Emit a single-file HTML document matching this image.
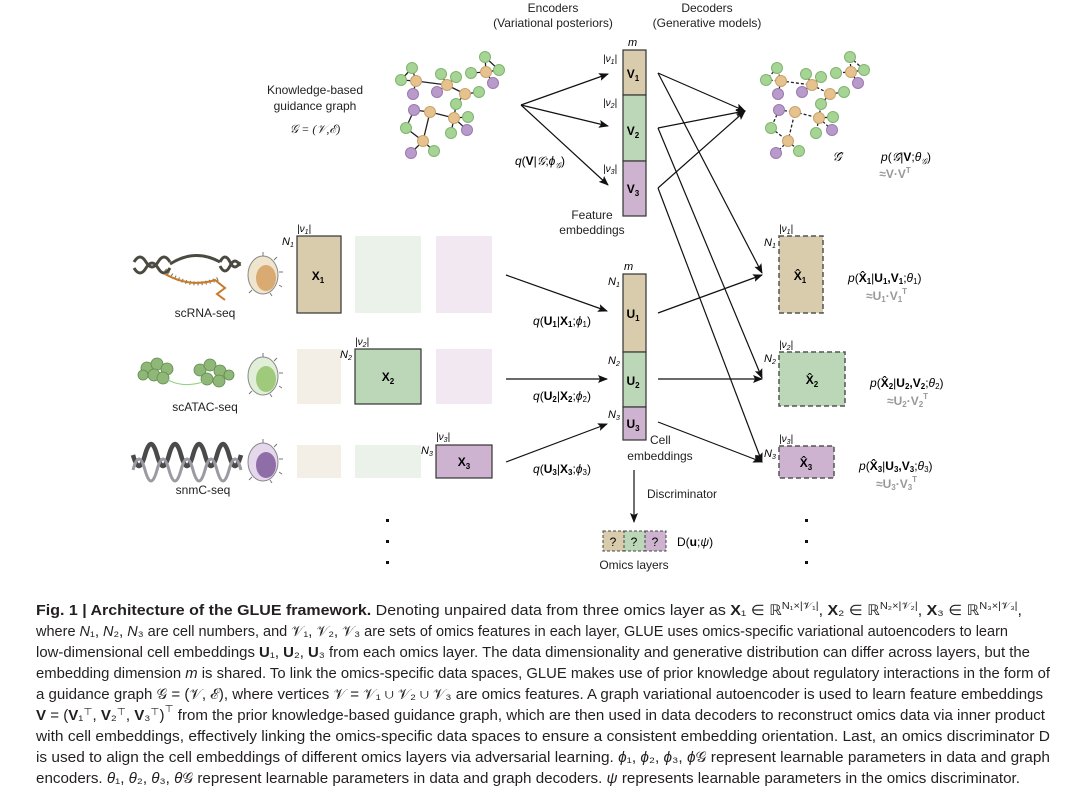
<!DOCTYPE html>
<html><head><meta charset="utf-8"><style>
html,body{margin:0;padding:0;background:#fff;}
svg{display:block;font-family:"Liberation Sans",sans-serif;}
.t{font-size:12px;fill:#222;}
.cap{font-size:14.5px;fill:#231f20;}
</style></head><body>
<svg width="1074" height="794" viewBox="0 0 1074 794" xmlns="http://www.w3.org/2000/svg">
<defs>
<marker id="ah" markerWidth="10" markerHeight="8" refX="9" refY="4" orient="auto" markerUnits="userSpaceOnUse">
<path d="M0,0 L10,4 L0,8 L2,4 Z" fill="#111"/></marker>
</defs>

<text class="t" x="553" y="12" text-anchor="middle">Encoders</text>
<text class="t" x="553" y="27" text-anchor="middle">(Variational posteriors)</text>
<text class="t" x="707" y="12" text-anchor="middle">Decoders</text>
<text class="t" x="707" y="27" text-anchor="middle">(Generative models)</text>

<text class="t" x="315" y="94" text-anchor="middle">Knowledge-based</text>
<text class="t" x="315" y="110" text-anchor="middle">guidance graph</text>
<text class="t" x="315" y="133" text-anchor="middle" font-style="italic" font-family="Liberation Serif">𝒢 = (𝒱,ℰ)</text>

<g>
<path d="M412 68L401 80L416 81Z M416 81L413 94 M416 81L447 85 M447 85L441 74 M447 85L456 77 M447 85L437 92 M447 85L465 94 M465 94L479 92 M465 94L456 104L454 118 M486 72L485 57L499 70L486 72 M486 72L471 73 M486 72L493 83 M414 110L430 112L454 118 M454 118L468 117 M454 118L451 133 M454 118L467 130 M414 110L406 128L423 141L430 112 M423 141L411 153 M423 141L434 151" stroke="#222" stroke-width="1.3" fill="none"/>
<g fill="#e6c28f" stroke="#c9a36a" stroke-width="1">
<circle cx="416" cy="81" r="5.5"/><circle cx="447" cy="85" r="5.5"/><circle cx="465" cy="94" r="5.5"/><circle cx="486" cy="72" r="5.5"/><circle cx="430" cy="112" r="5.5"/><circle cx="454" cy="118" r="5.5"/><circle cx="423" cy="141" r="5.5"/></g>
<g fill="#a6d495" stroke="#7fb56f" stroke-width="1">
<circle cx="412" cy="68" r="5.5"/><circle cx="401" cy="80" r="5.5"/><circle cx="441" cy="74" r="5.5"/><circle cx="456" cy="77" r="5.5"/><circle cx="479" cy="92" r="5.5"/><circle cx="456" cy="104" r="5.5"/><circle cx="485" cy="57" r="5.5"/><circle cx="471" cy="73" r="5.5"/><circle cx="499" cy="70" r="5.5"/><circle cx="468" cy="117" r="5.5"/><circle cx="451" cy="133" r="5.5"/><circle cx="406" cy="128" r="5.5"/><circle cx="434" cy="151" r="5.5"/></g>
<g fill="#b99bcb" stroke="#9a7aae" stroke-width="1">
<circle cx="413" cy="94" r="5.5"/><circle cx="437" cy="92" r="5.5"/><circle cx="493" cy="83" r="5.5"/><circle cx="414" cy="110" r="5.5"/><circle cx="467" cy="130" r="5.5"/><circle cx="411" cy="153" r="5.5"/></g>
</g>

<g transform="translate(365,0)">
<path d="M412 68L401 80L416 81Z M416 81L413 94 M416 81L447 85 M447 85L441 74 M447 85L456 77 M447 85L437 92 M447 85L465 94 M465 94L479 92 M465 94L456 104L454 118 M486 72L485 57L499 70L486 72 M486 72L471 73 M486 72L493 83 M414 110L430 112L454 118 M454 118L468 117 M454 118L451 133 M454 118L467 130 M414 110L406 128L423 141L430 112 M423 141L411 153 M423 141L434 151" stroke="#222" stroke-width="1.3" fill="none" stroke-dasharray="3,2"/>
<g fill="#e6c28f" stroke="#c9a36a" stroke-width="1">
<circle cx="416" cy="81" r="5.5"/><circle cx="447" cy="85" r="5.5"/><circle cx="465" cy="94" r="5.5"/><circle cx="486" cy="72" r="5.5"/><circle cx="430" cy="112" r="5.5"/><circle cx="454" cy="118" r="5.5"/><circle cx="423" cy="141" r="5.5"/></g>
<g fill="#a6d495" stroke="#7fb56f" stroke-width="1">
<circle cx="412" cy="68" r="5.5"/><circle cx="401" cy="80" r="5.5"/><circle cx="441" cy="74" r="5.5"/><circle cx="456" cy="77" r="5.5"/><circle cx="479" cy="92" r="5.5"/><circle cx="456" cy="104" r="5.5"/><circle cx="485" cy="57" r="5.5"/><circle cx="471" cy="73" r="5.5"/><circle cx="499" cy="70" r="5.5"/><circle cx="468" cy="117" r="5.5"/><circle cx="451" cy="133" r="5.5"/><circle cx="406" cy="128" r="5.5"/><circle cx="434" cy="151" r="5.5"/></g>
<g fill="#b99bcb" stroke="#9a7aae" stroke-width="1">
<circle cx="413" cy="94" r="5.5"/><circle cx="437" cy="92" r="5.5"/><circle cx="493" cy="83" r="5.5"/><circle cx="414" cy="110" r="5.5"/><circle cx="467" cy="130" r="5.5"/><circle cx="411" cy="153" r="5.5"/></g>
</g>
<text x="837" y="161" font-size="13" font-style="italic" font-family="Liberation Serif" text-anchor="middle">𝒢̂</text>
<text x="906" y="161" font-size="12" text-anchor="middle"><tspan font-style="italic">p</tspan>(<tspan font-style="italic">𝒢̂</tspan>|<tspan font-weight="bold">V</tspan>;<tspan font-style="italic">θ</tspan><tspan font-size="8" font-style="italic" dy="3">𝒢</tspan><tspan dy="-3">)</tspan></text>
<text x="895" y="178" font-size="12" fill="#999" font-weight="bold" text-anchor="middle">≈V·V<tspan font-size="8" dy="-5">T</tspan></text>

<g stroke="#111" stroke-width="1.2" fill="none" marker-end="url(#ah)">
<line x1="521" y1="105" x2="608" y2="74"/>
<line x1="521" y1="105" x2="608" y2="126"/>
<line x1="521" y1="105" x2="608" y2="185"/>
</g>
<text x="540" y="165" font-size="12" text-anchor="middle"><tspan font-style="italic">q</tspan>(<tspan font-weight="bold">V</tspan>|<tspan font-style="italic" font-family="Liberation Serif">𝒢</tspan>;<tspan font-style="italic">ϕ</tspan><tspan font-size="8" font-style="italic" dy="3">𝒢</tspan><tspan dy="-3">)</tspan></text>

<text x="628" y="46" font-size="11" font-style="italic">m</text>
<rect x="623" y="50" width="23" height="45" fill="#d9ccac" stroke="#333" stroke-width="1.2"/>
<rect x="623" y="95" width="23" height="66" fill="#bcd6b8" stroke="#333" stroke-width="1.2"/>
<rect x="623" y="161" width="23" height="55" fill="#cdb3cf" stroke="#333" stroke-width="1.2"/>
<g font-size="12" font-weight="bold" text-anchor="middle"><text x="633" y="78">V<tspan font-size="8" dy="3">1</tspan></text><text x="633" y="135">V<tspan font-size="8" dy="3">2</tspan></text><text x="633" y="193">V<tspan font-size="8" dy="3">3</tspan></text></g>
<g font-size="10" font-style="italic"><text x="603" y="62">|ν<tspan font-size="7" dy="2">1</tspan><tspan dy="-2">|</tspan></text><text x="603" y="106">|ν<tspan font-size="7" dy="2">2</tspan><tspan dy="-2">|</tspan></text><text x="603" y="172">|ν<tspan font-size="7" dy="2">3</tspan><tspan dy="-2">|</tspan></text></g>
<text class="t" x="592" y="219" text-anchor="middle">Feature</text>
<text class="t" x="592" y="234" text-anchor="middle">embeddings</text>

<g stroke="#111" stroke-width="1.2" fill="none" marker-end="url(#ah)">
<line x1="658" y1="73" x2="745" y2="111"/>
<line x1="658" y1="128" x2="745" y2="111"/>
<line x1="658" y1="188" x2="745" y2="111"/>
<line x1="658" y1="73" x2="762" y2="273"/>
<line x1="658" y1="128" x2="762" y2="378"/>
<line x1="658" y1="188" x2="762" y2="462"/>
<line x1="658" y1="313" x2="762" y2="275"/>
<line x1="658" y1="379" x2="762" y2="379"/>
<line x1="658" y1="422" x2="762" y2="462"/>
<line x1="506" y1="275" x2="607" y2="311"/>
<line x1="506" y1="379" x2="607" y2="379"/>
<line x1="506" y1="462" x2="607" y2="424"/>
<line x1="634" y1="470" x2="634" y2="522"/>
</g>

<!-- left icons -->
<g fill="none" stroke="#4a4a40" stroke-width="3">
<path d="M134 262 q6 -10 12 0 q6 10 12 0 q6 -10 12 0"/>
<path d="M134 268 q6 10 12 0 q6 -10 12 0 q6 10 12 0"/>
<path d="M170 264 q25 -16 50 -2"/>
<path d="M220 262 q5 -10 10 0 q5 10 10 0"/>
<path d="M220 266 q5 10 10 0 q5 -10 10 0"/>
</g>
<path d="M165 270 q25 22 55 8" stroke="#7a6e50" stroke-width="4" stroke-dasharray="1,3" fill="none"/>
<path d="M165 274 q25 14 50 6 l10 8 l-8 6 l8 6" stroke="#c77a2a" stroke-width="2" fill="none"/>
<g fill="#8fb878" stroke="#5f8a4c" stroke-width="0.8">
<circle cx="147" cy="368" r="6"/><circle cx="157" cy="364" r="6"/><circle cx="167" cy="369" r="6"/><circle cx="154" cy="375" r="6"/><circle cx="143" cy="375" r="5"/><circle cx="163" cy="378" r="6"/>
<circle cx="200" cy="370" r="6"/><circle cx="210" cy="365" r="6"/><circle cx="220" cy="371" r="6"/><circle cx="207" cy="379" r="6"/><circle cx="219" cy="381" r="6"/><circle cx="229" cy="375" r="5"/>
</g>
<path d="M168 380 q15 8 35 2" stroke="#8fd07a" fill="none"/>
<g fill="none" stroke="#4a4a4a" stroke-width="4.5">
<path d="M133 455 q6 22 12 0 q6 -22 12 0 q6 22 12 0 q6 -22 12 0 q6 22 12 0 q6 -22 12 0 q6 22 12 0 q6 -22 12 0 q6 22 12 0"/>
</g>
<g fill="none" stroke="#9a9aa2" stroke-width="3">
<path d="M133 470 q6 -22 12 0 q6 22 12 0 q6 -22 12 0 q6 22 12 0 q6 -22 12 0 q6 22 12 0 q6 -22 12 0 q6 22 12 0 q6 -22 12 0"/>
</g>
<g stroke="#777" stroke-width="1">
<path d="M263 256 v-4 M274 260 l3 -3 M279 272 h4 M279 285 l3 2 M270 293 l2 3 M252 290 l-3 3 M263 357 v-4 M274 361 l3 -3 M279 373 h4 M279 386 l3 2 M270 394 l2 3 M252 391 l-3 3 M263 443 v-4 M274 447 l3 -3 M279 459 h4 M279 472 l3 2 M270 480 l2 3 M252 477 l-3 3"/></g>
<ellipse cx="263" cy="275" rx="15" ry="19" fill="#efe4cc" stroke="#888"/><ellipse cx="266" cy="278" rx="10" ry="13" fill="#d9ab72"/>
<ellipse cx="263" cy="376" rx="15" ry="19" fill="#e2efd8" stroke="#888"/><ellipse cx="266" cy="379" rx="10" ry="13" fill="#9fca7c"/>
<ellipse cx="263" cy="462" rx="15" ry="19" fill="#e6d8ec" stroke="#888"/><ellipse cx="266" cy="465" rx="10" ry="13" fill="#8f6ea8"/>
<g class="t" text-anchor="middle"><text x="205" y="317">scRNA-seq</text><text x="205" y="411">scATAC-seq</text><text x="203" y="494">snmC-seq</text></g>

<rect x="355" y="236" width="66" height="77" fill="#ebf2ea"/>
<rect x="436" y="236" width="56" height="77" fill="#f1e8f1"/>
<rect x="297" y="349" width="44" height="55" fill="#f4efe6"/>
<rect x="436" y="349" width="56" height="55" fill="#f1e8f1"/>
<rect x="297" y="445" width="44" height="33" fill="#f4efe6"/>
<rect x="355" y="445" width="66" height="33" fill="#ebf2ea"/>
<rect x="297" y="236" width="44" height="77" fill="#d9ccac" stroke="#333" stroke-width="1.2"/>
<rect x="355" y="349" width="66" height="55" fill="#bcd6b8" stroke="#333" stroke-width="1.2"/>
<rect x="436" y="445" width="56" height="33" fill="#cdb3cf" stroke="#333" stroke-width="1.2"/>
<g font-size="12" font-weight="bold" text-anchor="middle"><text x="318" y="280">X<tspan font-size="8" dy="3">1</tspan></text><text x="388" y="381">X<tspan font-size="8" dy="3">2</tspan></text><text x="464" y="466">X<tspan font-size="8" dy="3">3</tspan></text></g>
<g font-size="10" font-style="italic"><text x="297" y="232">|ν<tspan font-size="7" dy="2">1</tspan><tspan dy="-2">|</tspan></text><text x="355" y="345">|ν<tspan font-size="7" dy="2">2</tspan><tspan dy="-2">|</tspan></text><text x="436" y="440">|ν<tspan font-size="7" dy="2">3</tspan><tspan dy="-2">|</tspan></text>
<text x="282" y="245" font-size="11">N<tspan font-size="7" dy="2">1</tspan></text><text x="340" y="358" font-size="11">N<tspan font-size="7" dy="2">2</tspan></text><text x="421" y="454" font-size="11">N<tspan font-size="7" dy="2">3</tspan></text></g>

<g font-size="12" text-anchor="middle">
<text x="562" y="325"><tspan font-style="italic">q</tspan>(<tspan font-weight="bold">U<tspan font-size="8" dy="2">1</tspan></tspan><tspan dy="-2">|</tspan><tspan font-weight="bold">X<tspan font-size="8" dy="2">1</tspan></tspan><tspan dy="-2">;</tspan><tspan font-style="italic">ϕ</tspan><tspan font-size="8" dy="2">1</tspan><tspan dy="-2">)</tspan></text>
<text x="562" y="400"><tspan font-style="italic">q</tspan>(<tspan font-weight="bold">U<tspan font-size="8" dy="2">2</tspan></tspan><tspan dy="-2">|</tspan><tspan font-weight="bold">X<tspan font-size="8" dy="2">2</tspan></tspan><tspan dy="-2">;</tspan><tspan font-style="italic">ϕ</tspan><tspan font-size="8" dy="2">2</tspan><tspan dy="-2">)</tspan></text>
<text x="562" y="473"><tspan font-style="italic">q</tspan>(<tspan font-weight="bold">U<tspan font-size="8" dy="2">3</tspan></tspan><tspan dy="-2">|</tspan><tspan font-weight="bold">X<tspan font-size="8" dy="2">3</tspan></tspan><tspan dy="-2">;</tspan><tspan font-style="italic">ϕ</tspan><tspan font-size="8" dy="2">3</tspan><tspan dy="-2">)</tspan></text>
</g>

<text x="624" y="270" font-size="11" font-style="italic">m</text>
<rect x="623" y="274" width="23" height="78" fill="#d9ccac" stroke="#333" stroke-width="1.2"/>
<rect x="623" y="352" width="23" height="55" fill="#bcd6b8" stroke="#333" stroke-width="1.2"/>
<rect x="623" y="407" width="23" height="33" fill="#cdb3cf" stroke="#333" stroke-width="1.2"/>
<g font-size="12" font-weight="bold" text-anchor="middle"><text x="633" y="318">U<tspan font-size="8" dy="3">1</tspan></text><text x="633" y="385">U<tspan font-size="8" dy="3">2</tspan></text><text x="633" y="428">U<tspan font-size="8" dy="3">3</tspan></text></g>
<g font-size="11" font-style="italic"><text x="608" y="285">N<tspan font-size="7" dy="2">1</tspan></text><text x="608" y="364">N<tspan font-size="7" dy="2">2</tspan></text><text x="608" y="418">N<tspan font-size="7" dy="2">3</tspan></text></g>
<text class="t" x="650" y="444">Cell</text>
<text class="t" x="660" y="460" text-anchor="middle">embeddings</text>
<text class="t" x="647" y="498">Discriminator</text>

<g stroke="#444" stroke-dasharray="3,2" stroke-width="1">
<rect x="603" y="531" width="21" height="20" fill="#d9ccac"/>
<rect x="624" y="531" width="21" height="20" fill="#bcd6b8"/>
<rect x="645" y="531" width="21" height="20" fill="#cdb3cf"/></g>
<g font-size="12" text-anchor="middle"><text x="613" y="546">?</text><text x="634" y="546">?</text><text x="655" y="546">?</text></g>
<text x="677" y="546" font-size="12">D(<tspan font-weight="bold">u</tspan>;<tspan font-style="italic">ψ</tspan>)</text>
<text class="t" x="634" y="569" text-anchor="middle">Omics layers</text>
<g fill="#111"><rect x="386" y="519" width="3" height="3"/><rect x="386" y="540" width="3" height="3"/><rect x="386" y="561" width="3" height="3"/>
<rect x="805" y="519" width="3" height="3"/><rect x="805" y="540" width="3" height="3"/><rect x="805" y="561" width="3" height="3"/></g>

<g stroke="#555" stroke-dasharray="5,3" stroke-width="1.5">
<rect x="779" y="236" width="44" height="77" fill="#d9ccac"/>
<rect x="779" y="352" width="66" height="54" fill="#bcd6b8"/>
<rect x="779" y="446" width="55" height="32" fill="#cdb3cf"/></g>
<g font-size="12" font-weight="bold" text-anchor="middle"><text x="800" y="280">X̂<tspan font-size="8" dy="3">1</tspan></text><text x="812" y="384">X̂<tspan font-size="8" dy="3">2</tspan></text><text x="806" y="467">X̂<tspan font-size="8" dy="3">3</tspan></text></g>
<g font-size="10" font-style="italic"><text x="779" y="232">|ν<tspan font-size="7" dy="2">1</tspan><tspan dy="-2">|</tspan></text><text x="779" y="348">|ν<tspan font-size="7" dy="2">2</tspan><tspan dy="-2">|</tspan></text><text x="779" y="442">|ν<tspan font-size="7" dy="2">3</tspan><tspan dy="-2">|</tspan></text>
<text x="764" y="246" font-size="11">N<tspan font-size="7" dy="2">1</tspan></text><text x="764" y="362" font-size="11">N<tspan font-size="7" dy="2">2</tspan></text><text x="764" y="457" font-size="11">N<tspan font-size="7" dy="2">3</tspan></text></g>
<g font-size="12">
<text x="848" y="282"><tspan font-style="italic">p</tspan>(<tspan font-weight="bold">X̂<tspan font-size="8" dy="2">1</tspan></tspan><tspan dy="-2">|</tspan><tspan font-weight="bold">U<tspan font-size="8" dy="2">1</tspan></tspan><tspan dy="-2" font-weight="bold">,V</tspan><tspan font-size="8" dy="2" font-weight="bold">1</tspan><tspan dy="-2">;</tspan><tspan font-style="italic">θ</tspan><tspan font-size="8" dy="2">1</tspan><tspan dy="-2">)</tspan></text>
<text x="866" y="300" fill="#999" font-weight="bold">≈U<tspan font-size="8" dy="2">1</tspan><tspan dy="-2">·V</tspan><tspan font-size="8" dy="2">1</tspan><tspan font-size="8" dy="-8">T</tspan></text>
<text x="870" y="387"><tspan font-style="italic">p</tspan>(<tspan font-weight="bold">X̂<tspan font-size="8" dy="2">2</tspan></tspan><tspan dy="-2">|</tspan><tspan font-weight="bold">U<tspan font-size="8" dy="2">2</tspan></tspan><tspan dy="-2" font-weight="bold">,V</tspan><tspan font-size="8" dy="2" font-weight="bold">2</tspan><tspan dy="-2">;</tspan><tspan font-style="italic">θ</tspan><tspan font-size="8" dy="2">2</tspan><tspan dy="-2">)</tspan></text>
<text x="887" y="405" fill="#999" font-weight="bold">≈U<tspan font-size="8" dy="2">2</tspan><tspan dy="-2">·V</tspan><tspan font-size="8" dy="2">2</tspan><tspan font-size="8" dy="-8">T</tspan></text>
<text x="859" y="470"><tspan font-style="italic">p</tspan>(<tspan font-weight="bold">X̂<tspan font-size="8" dy="2">3</tspan></tspan><tspan dy="-2">|</tspan><tspan font-weight="bold">U<tspan font-size="8" dy="2">3</tspan></tspan><tspan dy="-2" font-weight="bold">,V</tspan><tspan font-size="8" dy="2" font-weight="bold">3</tspan><tspan dy="-2">;</tspan><tspan font-style="italic">θ</tspan><tspan font-size="8" dy="2">3</tspan><tspan dy="-2">)</tspan></text>
<text x="876" y="488" fill="#999" font-weight="bold">≈U<tspan font-size="8" dy="2">3</tspan><tspan dy="-2">·V</tspan><tspan font-size="8" dy="2">3</tspan><tspan font-size="8" dy="-8">T</tspan></text>
</g>

<g class="cap">
<text x="36" y="615" textLength="986" lengthAdjust="spacingAndGlyphs"><tspan font-weight="bold">Fig. 1 | Architecture of the GLUE framework.</tspan> Denoting unpaired data from three omics layer as <tspan font-weight="bold">X</tspan>₁ ∈ ℝ<tspan font-size="10" dy="-6">N₁×|𝒱₁|</tspan><tspan dy="6">, </tspan><tspan font-weight="bold">X</tspan>₂ ∈ ℝ<tspan font-size="10" dy="-6">N₂×|𝒱₂|</tspan><tspan dy="6">, </tspan><tspan font-weight="bold">X</tspan>₃ ∈ ℝ<tspan font-size="10" dy="-6">N₃×|𝒱₃|</tspan><tspan dy="6">,</tspan></text>
<text x="36" y="636" textLength="972" lengthAdjust="spacingAndGlyphs">where <tspan font-style="italic">N</tspan>₁, <tspan font-style="italic">N</tspan>₂, <tspan font-style="italic">N</tspan>₃ are cell numbers, and 𝒱₁, 𝒱₂, 𝒱₃ are sets of omics features in each layer, GLUE uses omics-specific variational autoencoders to learn</text>
<text x="36" y="657" textLength="994" lengthAdjust="spacingAndGlyphs">low-dimensional cell embeddings <tspan font-weight="bold">U</tspan>₁, <tspan font-weight="bold">U</tspan>₂, <tspan font-weight="bold">U</tspan>₃ from each omics layer. The data dimensionality and generative distribution can differ across layers, but the</text>
<text x="36" y="678" textLength="1014" lengthAdjust="spacingAndGlyphs">embedding dimension <tspan font-style="italic">m</tspan> is shared. To link the omics-specific data spaces, GLUE makes use of prior knowledge about regulatory interactions in the form of</text>
<text x="36" y="699" textLength="1007" lengthAdjust="spacingAndGlyphs">a guidance graph 𝒢 = (𝒱, ℰ), where vertices 𝒱 = 𝒱₁ ∪ 𝒱₂ ∪ 𝒱₃ are omics features. A graph variational autoencoder is used to learn feature embeddings</text>
<text x="36" y="720" textLength="1009" lengthAdjust="spacingAndGlyphs"><tspan font-weight="bold">V</tspan> = (<tspan font-weight="bold">V</tspan>₁<tspan font-size="10" dy="-5">⊤</tspan><tspan dy="5">, </tspan><tspan font-weight="bold">V</tspan>₂<tspan font-size="10" dy="-5">⊤</tspan><tspan dy="5">, </tspan><tspan font-weight="bold">V</tspan>₃<tspan font-size="10" dy="-5">⊤</tspan><tspan dy="5">)</tspan><tspan font-size="10" dy="-8">⊤</tspan><tspan dy="8">  from the prior knowledge-based guidance graph, which are then used in data decoders to reconstruct omics data via inner product</tspan></text>
<text x="36" y="741" textLength="1014" lengthAdjust="spacingAndGlyphs">with cell embeddings, effectively linking the omics-specific data spaces to ensure a consistent embedding orientation. Last, an omics discriminator D</text>
<text x="36" y="762" textLength="1014" lengthAdjust="spacingAndGlyphs">is used to align the cell embeddings of different omics layers via adversarial learning. <tspan font-style="italic">ϕ</tspan>₁, <tspan font-style="italic">ϕ</tspan>₂, <tspan font-style="italic">ϕ</tspan>₃, <tspan font-style="italic">ϕ</tspan>𝒢 represent learnable parameters in data and graph</text>
<text x="36" y="783" textLength="984" lengthAdjust="spacingAndGlyphs">encoders. <tspan font-style="italic">θ</tspan>₁, <tspan font-style="italic">θ</tspan>₂, <tspan font-style="italic">θ</tspan>₃, <tspan font-style="italic">θ</tspan>𝒢 represent learnable parameters in data and graph decoders. <tspan font-style="italic">ψ</tspan> represents learnable parameters in the omics discriminator.</text>
</g>
</svg>
</body></html>
